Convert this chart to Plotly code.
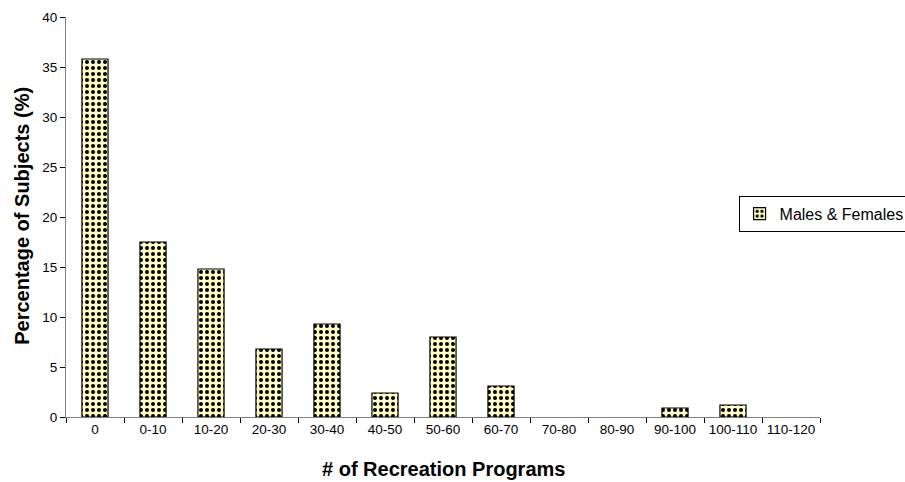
import plotly.graph_objects as go

# Distribution of subjects by number of recreation programs
categories = ["0", "0-10", "10-20", "20-30", "30-40", "40-50", "50-60",
              "60-70", "70-80", "80-90", "90-100", "100-110", "110-120"]
percent_subjects = [35.8, 17.5, 14.8, 6.8, 9.3, 2.4, 8.0, 3.1, 0, 0, 0.9, 1.2, 0]
series_name = "Males & Females"
x_title = "# of Recreation Programs"
y_title = "Percentage of Subjects (%)"

# empty categories get no outline so nothing is drawn for them
outline_widths = [1.2 if v > 0 else 0 for v in percent_subjects]

fig = go.Figure()
fig.add_trace(go.Bar(
    x=categories,
    y=percent_subjects,
    name=series_name,
    marker=dict(
        color="#FFFFC6",
        line=dict(color="#000000", width=outline_widths),
        pattern=dict(shape=".", fgcolor="#000000", bgcolor="#FFFFC6",
                     size=6, solidity=0.35, fillmode="replace"),
    ),
    showlegend=True,
))

family = "Liberation Sans, Arial, sans-serif"
axis_font = dict(family=family, size=13.5, color="#000000")
title_font = dict(family=family, size=20, color="#000000")

fig.update_layout(
    width=905, height=482,
    margin=dict(l=66, r=85, t=17, b=65, autoexpand=False),
    paper_bgcolor="white",
    plot_bgcolor="white",
    bargap=0.55,
    font=axis_font,
    xaxis=dict(
        type="category", automargin=False, tickangle=0,
        showline=True, linecolor="#808080", linewidth=1,
        ticks="outside", tickson="boundaries", ticklen=5, tickcolor="#000000",
        showgrid=False, zeroline=False,
        tickfont=axis_font,
    ),
    yaxis=dict(
        range=[0, 40], dtick=5, automargin=False,
        showline=True, linecolor="#808080", linewidth=1,
        ticks="outside", ticklen=5, tickcolor="#000000",
        showgrid=False, zeroline=False,
        tickfont=axis_font,
    ),
    legend=dict(
        x=0.892, y=0.553, xanchor="left", yanchor="top",
        bordercolor="#000000", borderwidth=1, bgcolor="white",
        font=dict(family=family, size=16, color="#000000"),
        itemwidth=30,
    ),
    annotations=[
        dict(text="<b>" + x_title + "</b>", xref="paper", yref="paper",
             x=0.5, y=-0.131, xanchor="center", yanchor="middle",
             showarrow=False, font=title_font),
        dict(text="<b>" + y_title + "</b>", xref="paper", yref="paper",
             x=-0.0584, y=0.503, xanchor="center", yanchor="middle",
             textangle=-90, showarrow=False, font=title_font),
    ],
)

fig.write_html("out.html")
